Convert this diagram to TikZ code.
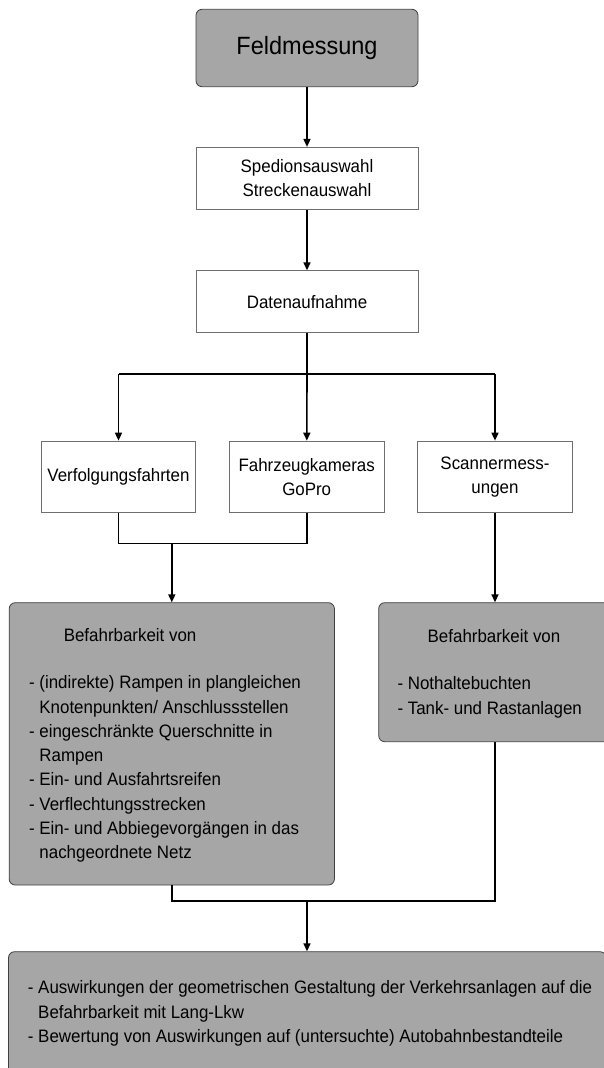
\documentclass[tikz,border=0pt]{standalone}
\usepackage{fontspec}
\setmainfont{Liberation Sans}[FakeStretch=0.94]
\usetikzlibrary{arrows.meta,positioning,calc}
\definecolor{boxgray}{HTML}{A6A6A6}
\definecolor{framegray}{HTML}{404040}
\definecolor{linegray}{HTML}{6E6E6E}
\tikzset{
  flow/.style={-{Triangle[width=7pt,length=8pt]}, line width=1.6pt},
  link/.style={line width=1.6pt},
  whitebox/.style={draw=linegray, line width=0.8pt, fill=white, align=center,
    minimum width=222pt, minimum height=62pt, inner sep=0pt,
    font=\fontsize{18}{24}\selectfont},
  smallbox/.style={whitebox, minimum width=154.5pt, minimum height=71.3pt},
  graybox/.style={draw=framegray, line width=0.8pt, fill=boxgray,
    rounded corners=6pt, inner sep=0pt},
  txt/.style={inner sep=0pt, align=left, font=\fontsize{18}{24.3}\selectfont}
}
\newcommand{\hang}{\phantom{- }}

\begin{document}
\begin{tikzpicture}[x=1pt,y=-1pt]
        \useasboundingbox (0,0) rectangle (604,1068);
        % top column
        \node[graybox, minimum width=222pt, minimum height=77.4pt,
              font=\fontsize{25}{28}\selectfont] (feld) at (307,48) {Feldmessung};
        \node[whitebox] (spedition) at (307,178.3) {Spedionsauswahl\\Streckenauswahl};
        \node[whitebox] (daten) at (307,301.7) {Datenaufnahme};
        \coordinate (split) at (307,374);

        % measurement methods
        \node[smallbox] (verfolgung) at (118.5,476.7) {Verfolgungsfahrten};
        \node[smallbox] (kamera) at (306.7,476.7) {Fahrzeugkameras\\GoPro};
        \node[smallbox] (scanner) at (495,476.7) {Scannermess-\\ungen};
        \coordinate (join1) at (171.8,543.3);

        % results
        \node[graybox, minimum width=325.2pt, minimum height=282.3pt] (links) at (171.8,743.85) {};
        \node[graybox, minimum width=233.3pt, minimum height=139pt] (rechts) at (495.35,672.2) {};
        \coordinate (join2) at (307,900.7);
        \node[graybox, minimum width=597.5pt, minimum height=123.3pt] (gesamt) at (307.25,1013.35) {};

        \node[txt, anchor=base west] (linkskopf) at (63.6,641) {Befahrbarkeit von};
        \node[txt, anchor=north west] (linksliste) at (28.9,675.5) {%
          - (indirekte) Rampen in plangleichen\\
          \hang Knotenpunkten/ Anschlussstellen\\
          - eingeschränkte Querschnitte in\\
          \hang Rampen\\
          - Ein- und Ausfahrtsreifen\\
          - Verflechtungsstrecken\\
          - Ein- und Abbiegevorgängen in das\\
          \hang nachgeordnete Netz};
        \node[txt, anchor=base] (rechtskopf) at (494,642) {Befahrbarkeit von};
        \node[txt, anchor=north west] (rechtsliste) at (397.3,676.5) {%
          - Nothaltebuchten\\
          - Tank- und Rastanlagen};
        \node[txt, anchor=north west] (gesamtliste) at (27.7,980.5) {%
          - Auswirkungen der geometrischen Gestaltung der Verkehrsanlagen auf die\\
          \hang Befahrbarkeit mit Lang-Lkw\\
          - Bewertung von Auswirkungen auf (untersuchte) Autobahnbestandteile};

        \draw[flow] (feld) -- (spedition);
        \draw[flow] (spedition) -- (daten);
        \draw[link] (daten) -- (split);
        \draw[link] (verfolgung |- split) -- (scanner |- split);
        \draw[flow] (verfolgung |- split) -- (verfolgung);
        \draw[flow] (split) -- (kamera);
        \draw[flow] (scanner |- split) -- (scanner);
        \draw[link] (verfolgung) -- (verfolgung |- join1) -- (kamera |- join1) -- (kamera);
        \draw[flow] (join1) -- (links);
        \draw[flow] (scanner) -- (scanner |- rechts.north);
        \draw[link] (links) -- (links |- join2) -- (scanner |- join2) -- (scanner |- rechts.south);
        \draw[flow] (join2) -- (join2 |- gesamt.north);
\end{tikzpicture}
\end{document}
